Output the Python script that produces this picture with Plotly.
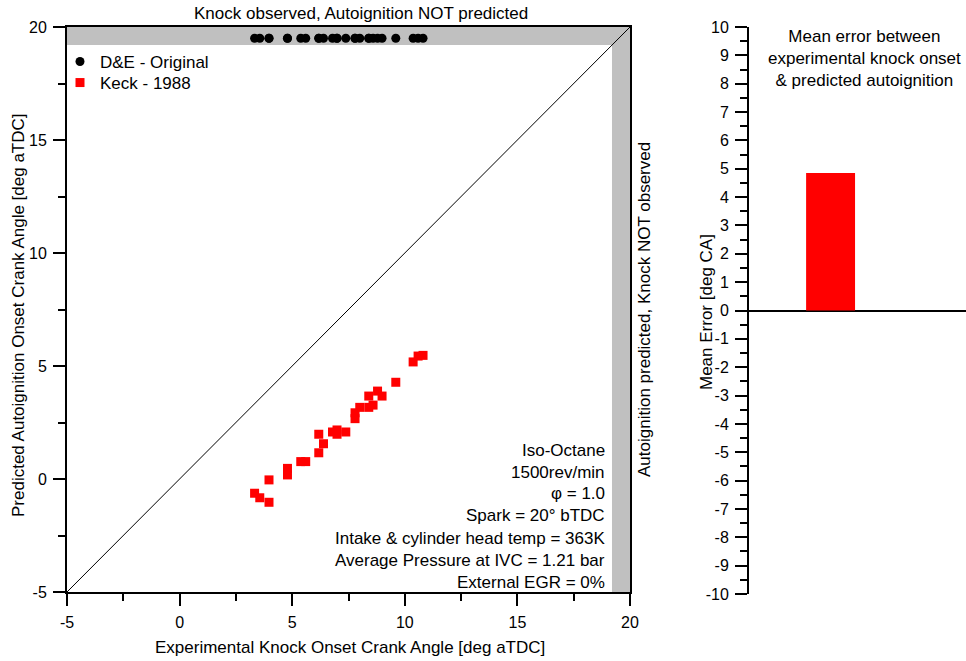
import plotly.graph_objects as go

# ---- data -------------------------------------------------------------
# Experimental knock onset [deg aTDC] for each engine cycle set
knock_x = [3.33, 3.56, 3.97, 3.97, 4.79, 4.79, 5.38, 5.60, 6.18, 6.39,
           6.18, 6.79, 6.99, 6.99, 7.38, 7.79, 7.79, 8.00, 8.40, 8.40,
           8.59, 8.79, 8.99, 9.60, 10.37, 10.59, 10.81]
# Keck (1988) predicted autoignition onset [deg aTDC]
keck_y = [-0.63, -0.83, -1.03, -0.04, 0.47, 0.18, 0.77, 0.77, 1.16, 1.56,
          1.98, 2.08, 2.17, 1.98, 2.08, 2.67, 2.93, 3.17, 3.67, 3.17,
          3.27, 3.89, 3.67, 4.28, 5.18, 5.44, 5.47]
# D&E original: no autoignition predicted -> plotted in the top band
dne_y = [19.5, 19.5, 19.5, 19.5, 19.5, 19.5, 19.5, 19.5, 19.5, 19.5,
         19.5, 19.5, 19.5, 19.5, 19.5, 19.5, 19.5, 19.5, 19.5, 19.5,
         19.5, 19.5, 19.5, 19.5, 19.5, 19.5, 19.5]

axis_limits = [-5, 20]          # both axes of the scatter panel
band_start = 19.2               # start of the "not predicted / not observed" bands
scatter_ticks = [-5, 0, 5, 10, 15, 20]
scatter_ticktext = ["-5", "0", "5", "10", "15", "20"]

error_models = ["Keck - 1988"]
mean_error = [4.85]             # mean error [deg CA]
error_ticks = [10, 9, 8, 7, 6, 5, 4, 3, 2, 1, 0,
               -1, -2, -3, -4, -5, -6, -7, -8, -9, -10]
error_ticktext = ["10", "9", "8", "7", "6", "5", "4", "3", "2", "1", "0",
                  "-1", "-2", "-3", "-4", "-5", "-6", "-7", "-8", "-9", "-10"]

conditions = ["Iso-Octane", "1500rev/min", "φ = 1.0", "Spark = 20° bTDC",
              "Intake & cylinder head temp = 363K",
              "Average Pressure at IVC = 1.21 bar", "External EGR = 0%"]

# ---- layout helpers ---------------------------------------------------
W, H = 966, 661
FONT = "Liberation Sans, Arial, sans-serif"
TXT = 17


def px(x):
    return x / W


def py(y):
    return 1 - y / H


fig = go.Figure()

# identity line
fig.add_trace(go.Scatter(x=axis_limits, y=axis_limits, mode="lines",
                         line=dict(color="black", width=1),
                         showlegend=False, hoverinfo="skip",
                         xaxis="x", yaxis="y"))

fig.add_trace(go.Scatter(x=knock_x, y=dne_y, mode="markers", name="D&E - Original",
                         marker=dict(symbol="circle", size=9, color="black"),
                         xaxis="x", yaxis="y", legend="legend"))
fig.add_trace(go.Scatter(x=knock_x, y=keck_y, mode="markers", name="Keck - 1988",
                         marker=dict(symbol="square", size=9, color="#ff0000"),
                         xaxis="x", yaxis="y", legend="legend2"))

fig.add_trace(go.Bar(x=error_models, y=mean_error, width=0.6,
                     marker=dict(color="#ff0000", line=dict(width=0)),
                     showlegend=False, xaxis="x2", yaxis="y2"))

# grey bands
fig.add_shape(type="rect", xref="x", yref="y", x0=axis_limits[0], x1=axis_limits[1],
              y0=band_start, y1=axis_limits[1], fillcolor="#c0c0c0",
              line=dict(width=0), layer="below")
fig.add_shape(type="rect", xref="x", yref="y", x0=band_start, x1=axis_limits[1],
              y0=axis_limits[0], y1=axis_limits[1], fillcolor="#c0c0c0",
              line=dict(width=0), layer="below")

minor_ticks = dict(ticks="outside", ticklen=7, tickwidth=2, tickcolor="black")
axis_common = dict(showline=True, linecolor="black", linewidth=2,
                   ticks="outside", ticklen=12, tickwidth=2, tickcolor="black",
                   showgrid=False, automargin=False,
                   ticklabelstandoff=3,
                   tickfont=dict(family=FONT, size=16, color="black"))

legend_common = dict(xanchor="left", yanchor="top", bgcolor="rgba(0,0,0,0)",
                     borderwidth=0, font=dict(family=FONT, size=TXT),
                     itemwidth=30)

fig.update_layout(
    width=W, height=H,
    margin=dict(l=0, r=0, t=0, b=0),
    paper_bgcolor="white", plot_bgcolor="white",
    font=dict(family=FONT, size=TXT, color="black"),
    xaxis=dict(domain=[px(67), px(630)], range=axis_limits,
               tickvals=scatter_ticks, ticktext=scatter_ticktext,
               mirror=True, anchor="y", zeroline=False,
               minor=dict(dtick=2.5, **minor_ticks), **axis_common),
    yaxis=dict(domain=[py(592), py(27)], range=axis_limits,
               tickvals=scatter_ticks, ticktext=scatter_ticktext,
               mirror=True, anchor="x", zeroline=False,
               minor=dict(dtick=2.5, **minor_ticks), **axis_common),
    xaxis2=dict(domain=[px(749), 1.0], range=[-1.0, 1.66], anchor="y2",
                visible=False, automargin=False),
    yaxis2=dict(domain=[py(594), py(27)], range=[-10, 10],
                tickvals=error_ticks, ticktext=error_ticktext,
                anchor="x2", zeroline=True, zerolinecolor="black",
                zerolinewidth=2,
                minor=dict(dtick=0.5, **minor_ticks),
                **axis_common),
    legend=dict(x=px(60), y=py(44), **legend_common),
    legend2=dict(x=px(60), y=py(65), **legend_common),
    showlegend=True,
)


def label(text, x, y, **kw):
    return dict(text=text, x=px(x), y=py(y), xref="paper", yref="paper",
                showarrow=False, font=dict(size=TXT),
                yanchor="middle", **kw)


annotations = [
    label("Knock observed, Autoignition NOT predicted", 361, 14, xanchor="center"),
    label("Autoignition predicted, Knock NOT observed", 645, 310,
          xanchor="center", textangle=-90),
    label("Experimental Knock Onset Crank Angle [deg aTDC]", 350, 647,
          xanchor="center"),
    label("Predicted Autoignition Onset Crank Angle [deg aTDC]", 18, 315,
          xanchor="center", textangle=-90),
    label("Mean Error [deg CA]", 707, 312, xanchor="center", textangle=-90),
    label("Mean error between<br>experimental knock onset<br>&amp; predicted autoignition",
          864, 59, xanchor="center", align="center"),
]
line_y = [450, 472, 493, 515, 538, 560, 582]
for txt, yy in zip(conditions, line_y):
    annotations.append(label(txt, 607, yy, xanchor="right"))
fig.update_layout(annotations=annotations)

fig.write_html("out.html")
